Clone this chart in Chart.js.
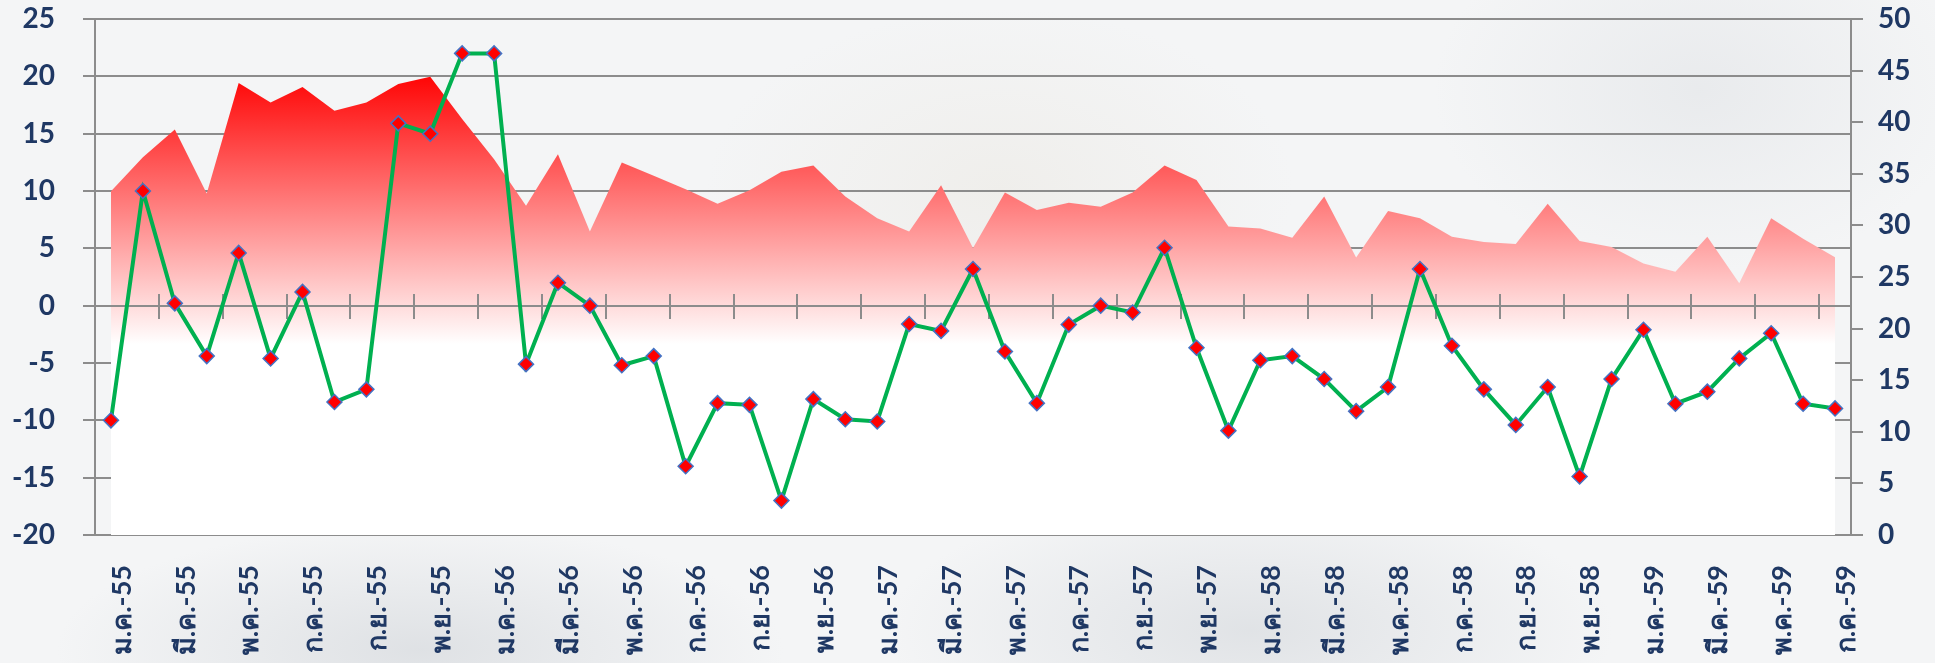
<!DOCTYPE html>
<html lang="th">
<head>
<meta charset="utf-8">
<title>Monthly index chart</title>
<script src="https://cdn.jsdelivr.net/npm/chart.js@4.4.1/dist/chart.umd.min.js"></script>
<style>
  html, body { margin: 0; padding: 0; }
  body {
    width: 1935px;
    height: 663px;
    overflow: hidden;
    background:
      radial-gradient(ellipse 420px 260px at 1000px 190px, rgba(228, 222, 210, 0.3), rgba(228, 222, 210, 0) 70%),
      radial-gradient(ellipse 520px 180px at 420px 650px, rgba(205, 209, 214, 0.55), rgba(205, 209, 214, 0) 70%),
      radial-gradient(ellipse 520px 200px at 1250px 630px, rgba(205, 209, 214, 0.5), rgba(205, 209, 214, 0) 70%),
      radial-gradient(ellipse 380px 260px at 1700px 90px, rgba(216, 219, 223, 0.4), rgba(216, 219, 223, 0) 70%),
      #f4f5f6;
  }
  #chart-wrapper { position: relative; width: 1935px; height: 663px; }
</style>
</head>
<body>
<div id="chart-wrapper"><canvas id="chart-canvas"></canvas></div>
<script>
(function() {
  "use strict";

  // ===== Data =====
  var months = [
    "ม.ค.-55", "ก.พ.-55", "มี.ค.-55", "เม.ย.-55", "พ.ค.-55", "มิ.ย.-55",
    "ก.ค.-55", "ส.ค.-55", "ก.ย.-55", "ต.ค.-55", "พ.ย.-55", "ธ.ค.-55",
    "ม.ค.-56", "ก.พ.-56", "มี.ค.-56", "เม.ย.-56", "พ.ค.-56", "มิ.ย.-56",
    "ก.ค.-56", "ส.ค.-56", "ก.ย.-56", "ต.ค.-56", "พ.ย.-56", "ธ.ค.-56",
    "ม.ค.-57", "ก.พ.-57", "มี.ค.-57", "เม.ย.-57", "พ.ค.-57", "มิ.ย.-57",
    "ก.ค.-57", "ส.ค.-57", "ก.ย.-57", "ต.ค.-57", "พ.ย.-57", "ธ.ค.-57",
    "ม.ค.-58", "ก.พ.-58", "มี.ค.-58", "เม.ย.-58", "พ.ค.-58", "มิ.ย.-58",
    "ก.ค.-58", "ส.ค.-58", "ก.ย.-58", "ต.ค.-58", "พ.ย.-58", "ธ.ค.-58",
    "ม.ค.-59", "ก.พ.-59", "มี.ค.-59", "เม.ย.-59", "พ.ค.-59", "มิ.ย.-59",
    "ก.ค.-59"
  ];

  // green line, left axis
  var changeValues = [
    -10.0, 10.0, 0.2, -4.4, 4.6, -4.6, 1.2, -8.4, -7.3, 15.9,
    15.0, 22.0, 22.0, -5.1, 2.0, 0.0, -5.2, -4.4, -14.0, -8.5,
    -8.65, -17.0, -8.15, -9.9, -10.1, -1.6, -2.2, 3.2, -4.0, -8.5,
    -1.65, 0.0, -0.6, 5.05, -3.67, -10.9, -4.76, -4.4, -6.4, -9.2,
    -7.1, 3.2, -3.5, -7.3, -10.4, -7.1, -14.9, -6.4, -2.1, -8.55,
    -7.5, -4.6, -2.4, -8.55, -8.96
  ];

  // red area, right axis
  var levelValues = [
    33.3, 36.6, 39.3, 33.1, 43.8, 41.9, 43.4, 41.1, 41.9, 43.7,
    44.4, 40.3, 36.4, 31.9, 36.9, 29.4, 36.1, 34.8, 33.5, 32.1,
    33.4, 35.2, 35.8, 32.8, 30.7, 29.4, 33.9, 27.8, 33.2, 31.5,
    32.2, 31.8, 33.2, 35.8, 34.4, 29.9, 29.7, 28.8, 32.8, 26.9,
    31.4, 30.7, 28.9, 28.4, 28.2, 32.1, 28.5, 27.9, 26.3, 25.5,
    28.9, 24.4, 30.7, 28.7, 26.9
  ];

  // ===== Styles =====
  var GRID = "#8c8c8c";
  var LABEL = "#1f3864";
  var FONT = "'Century Gothic', Lato, 'Noto Sans', 'DejaVu Sans', sans-serif";

  function areaFill(ctx) {
    var area = ctx.chart.chartArea;
    if (!area) return "rgba(255, 0, 0, 0.6)";
    var g = ctx.chart.ctx.createLinearGradient(0, area.top, 0, area.bottom);
    g.addColorStop(0, "#ff0000");
    g.addColorStop(0.10, "#ff0000");
    g.addColorStop(0.63, "#ffffff");
    g.addColorStop(1, "#ffffff");
    return g;
  }

  function everyOther(ctx) {
    return ctx.index % 2 === 0 ? GRID : "transparent";
  }

  // y axes: keep the label gap without pushing the plot area down
  function noVerticalPadding(scale) {
    scale.paddingTop = 0;
    scale.paddingBottom = 0;
  }

  // Excel draws the crossing axis on top of the area series, under the line
  var zeroAxisPlugin = {
    id: "zeroAxisOverArea",
    afterDatasetDraw: function(chart, args) {
      if (args.index !== 1) return;
      ["xTick", "xTickUp"].forEach(function(id) {
        var scale = chart.scales[id];
        if (!scale) return;
        scale.drawGrid(chart.chartArea);
        scale.drawBorder();
      });
    }
  };

  var valueFont = { family: FONT, size: 28, weight: "bold" };
  var monthFont = { family: FONT, size: 27, weight: "bold" };

  new Chart(document.getElementById("chart-canvas"), {
    type: "line",
    data: {
      labels: months,
      datasets: [
        {
          data: changeValues,
          yAxisID: "y",
          borderColor: "#00b050",
          borderWidth: 4,
          tension: 0,
          fill: false,
          pointStyle: "rectRot",
          pointRadius: 7.5,
          pointBackgroundColor: "#ff0000",
          pointBorderColor: "#4472c4",
          pointBorderWidth: 1.5
        },
        {
          data: levelValues,
          yAxisID: "y2",
          borderWidth: 0,
          pointRadius: 0,
          tension: 0,
          fill: "start",
          backgroundColor: areaFill
        }
      ]
    },
    plugins: [zeroAxisPlugin],
    options: {
      responsive: true,
      maintainAspectRatio: false,
      animation: false,
      layout: { padding: { top: 19, right: 0, bottom: 0, left: 0 } },
      plugins: {
        legend: { display: false },
        tooltip: { enabled: false }
      },
      scales: {
        x: {
          type: "category",
          position: "bottom",
          offset: true,
          grid: { display: false },
          border: { display: false },
          ticks: {
            autoSkip: false,
            minRotation: 90,
            maxRotation: 90,
            padding: 22,
            labelOffset: 11,
            color: LABEL,
            font: monthFont,
            callback: function(value, index) {
              return index % 2 === 0 ? this.getLabelForValue(value) : "";
            }
          },
          afterFit: function(scale) { scale.height = 128; }
        },
        xTick: {
          type: "category",
          position: { y: 0 },
          offset: true,
          ticks: { display: false },
          grid: {
            offset: true,
            drawOnChartArea: false,
            drawTicks: true,
            tickLength: 12,
            lineWidth: 2,
            tickWidth: 2,
            color: everyOther,
            tickColor: everyOther
          },
          border: { display: true, color: GRID, width: 2 }
        },
        xTickUp: {
          type: "category",
          position: { y: 0 },
          offset: true,
          ticks: { display: false },
          grid: {
            offset: true,
            drawOnChartArea: false,
            drawTicks: true,
            tickLength: -12,
            lineWidth: 2,
            tickWidth: 2,
            color: everyOther,
            tickColor: everyOther
          },
          border: { display: false }
        },
        y: {
          position: "left",
          min: -20,
          max: 25,
          ticks: { stepSize: 5, padding: 28, color: LABEL, font: valueFont },
          grid: { color: GRID, lineWidth: 2, drawTicks: true, tickLength: 12 },
          border: { display: true, color: GRID, width: 2 },
          afterFit: function(scale) {
            scale.width = 95;
            noVerticalPadding(scale);
          }
        },
        y2: {
          position: "right",
          min: 0,
          max: 50,
          ticks: { stepSize: 5, padding: 15, color: LABEL, font: valueFont },
          grid: { drawOnChartArea: false, color: GRID, lineWidth: 2, drawTicks: true, tickLength: 12 },
          border: { display: true, color: GRID, width: 2 },
          afterFit: function(scale) {
            scale.width = 84;
            noVerticalPadding(scale);
          }
        }
      }
    }
  });
})();
</script>
</body>
</html>
